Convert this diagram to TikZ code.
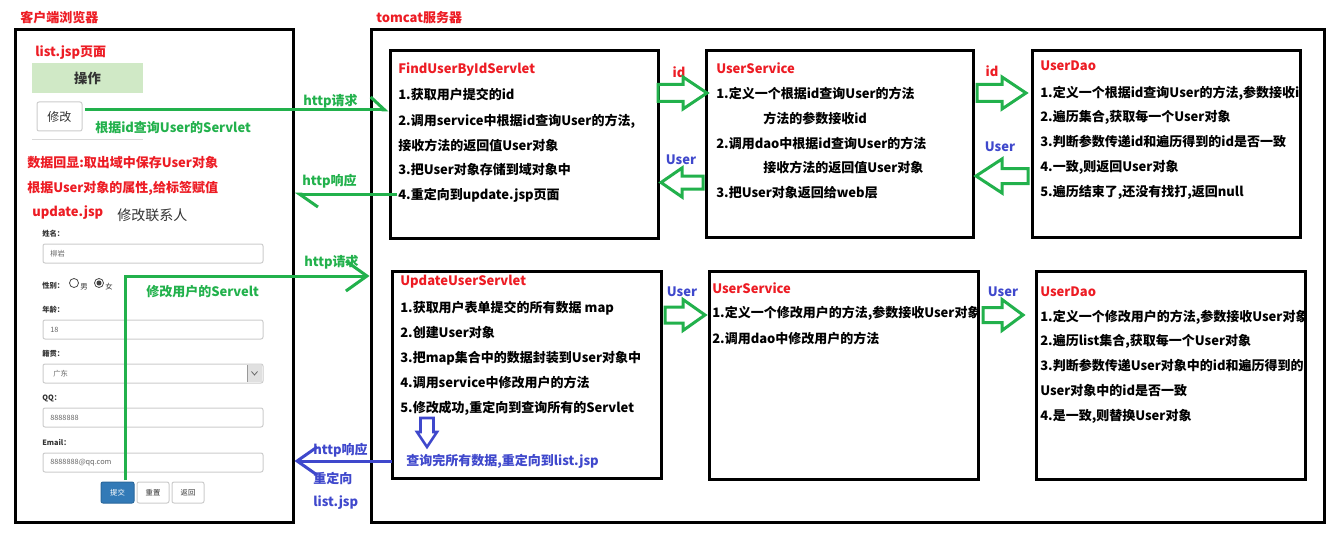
\documentclass[tikz,border=0pt]{standalone}
\usepackage{fontspec}
\setmainfont{Noto Sans CJK SC}
\usetikzlibrary{arrows.meta,fit}
\definecolor{myred}{HTML}{ED1C24}
\definecolor{mygreen}{HTML}{22B14C}
\definecolor{myblue}{HTML}{3F48CC}
\definecolor{okfill}{HTML}{D0E9C6}
\definecolor{formgray}{HTML}{CCCCCC}
\definecolor{dark}{HTML}{333333}
\definecolor{btnblue}{HTML}{337AB7}
\newcommand\myfatarrow[7][mygreen]{% tail, headback, tip, y, shaft half, head half
  \draw[fat,draw=#1] (#2,{#5-#6}) -- (#3,{#5-#6}) -- (#3,{#5-#7}) -- (#4,#5) -- (#3,{#5+#7}) -- (#3,{#5+#6}) -- (#2,{#5+#6}) -- cycle;}
\begin{document}
\begin{tikzpicture}[x=0.75pt,y=-0.75pt,
  txt/.style={anchor=west,inner sep=0,font=\fontsize{9.75}{11}\selectfont\bfseries},
  rtxt/.style={txt,text=myred},
  gtxt/.style={txt,text=mygreen},
  btxt/.style={txt,text=myblue},
  ftxt/.style={anchor=west,inner sep=0,font=\fontsize{5.5}{6}\selectfont\bfseries,text=dark},
  ival/.style={anchor=west,inner sep=0,font=\fontsize{5.5}{6}\selectfont,text=black!60},
  box/.style={draw=black,line width=2.25pt,inner sep=0},
  field/.style={draw=formgray,line width=0.75pt,rounded corners=1.5pt},
  gline/.style={draw=mygreen,line width=2.25pt},
  bline/.style={draw=myblue,line width=2.25pt},
  fat/.style={line width=2.25pt,line join=miter},
  btn/.style={draw=formgray,line width=0.75pt,rounded corners=1.5pt,inner sep=0},
]
\fill[white] (0,0) rectangle (1336,542);
\useasboundingbox (0,0) rectangle (1336,542);

% ---------- headings ----------
\node[rtxt] (hclient) at (20,18) {客户端浏览器};
\node[rtxt] (htomcat) at (376,18) {tomcat服务器};

% ---------- browser contents ----------
\node[rtxt] (hlist) at (35,53) {list.jsp页面};
\coordinate (op1) at (32,63); \coordinate (op2) at (143,93);
\node[fill=okfill,inner sep=0,fit=(op1)(op2)] (opbox) {};
\node[inner sep=0,font=\fontsize{10}{12}\selectfont\bfseries,text=dark] (optxt) at (opbox) {操作};
\coordinate (bt1) at (37,102); \coordinate (bt2) at (82,131);
\node[btn,fit=(bt1)(bt2)] (editbtn) {};
\node[inner sep=0,font=\fontsize{9}{11}\selectfont,text=dark] (edittxt) at (editbtn) {修改};
\draw[draw=black!15,line width=0.75pt] (32,140) -- (143,140);
\node[gtxt] (gl1) at (95,128) {根据id查询User的Servlet};
\node[rtxt] (echo1) at (27,163) {数据回显:取出域中保存User对象};
\node[rtxt] (echo2) at (27,188) {根据User对象的属性,给标签赋值};
\node[rtxt] (hupd) at (32,213) {update.jsp};
\node[anchor=west,inner sep=0,font=\fontsize{10.5}{12}\selectfont,text=dark] (updtitle) at (117,215) {修改联系人};

% form
\node[ftxt] (lname) at (42,234) {姓名：};
\draw[field] (43,244) rectangle (263,263);
\node[ival] (vname) at (50,253.5) {柳岩};
\node[ftxt] (lsex) at (42,286) {性别：};
\draw[black!70,line width=0.6pt] (74,283) circle[radius=3.4pt];
\node[ival,text=dark] (vm) at (80,287) {男};
\draw[black!70,line width=0.6pt] (99,283) circle[radius=3.4pt];
\fill[black!75] (99,283) circle[radius=1.9pt];
\node[ival,text=dark] (vf) at (105,287) {女};
\node[ftxt] (lage) at (42,310) {年龄：};
\draw[field] (43,320) rectangle (263,339);
\node[ival] (vage) at (50,329.5) {18};
\node[ftxt] (lorig) at (42,354) {籍贯：};
\draw[field] (43,364) rectangle (263,383);
\fill[black!12] (247,365) rectangle (262,382);
\draw[black!40,line width=0.5pt] (247,365) -- (247,382);
\draw[black!60,line width=0.6pt] (251.5,371.5) -- (254.5,375) -- (257.5,371.5);
\node[ival] (vorig) at (53,373.5) {广东};
\node[ftxt] (lqq) at (42,398) {QQ：};
\draw[field] (43,408) rectangle (263,427);
\node[ival] (vqq) at (50,417.5) {8888888};
\node[ftxt] (lmail) at (42,443) {Email：};
\draw[field] (43,453) rectangle (263,472);
\node[ival] (vmail) at (50,462.5) {8888888@qq.com};
\coordinate (sb1) at (101,482); \coordinate (sb2) at (134,503);
\node[btn,fill=btnblue,draw=btnblue!85!black,fit=(sb1)(sb2)] (submit) {};
\node[inner sep=0,font=\fontsize{5.5}{6}\selectfont,text=white] at (submit) {提交};
\coordinate (rb1) at (137,482); \coordinate (rb2) at (169,503);
\node[btn,fit=(rb1)(rb2)] (reset) {};
\node[inner sep=0,font=\fontsize{5.5}{6}\selectfont,text=dark] at (reset) {重置};
\coordinate (kb1) at (172,482); \coordinate (kb2) at (204,503);
\node[btn,fit=(kb1)(kb2)] (back) {};
\node[inner sep=0,font=\fontsize{5.5}{6}\selectfont,text=dark] at (back) {返回};
\node[gtxt] (gl2) at (146,292) {修改用户的Servelt};

% ---------- top row texts ----------
\node[rtxt] (fsT) at (398,70) {FindUserByIdServlet};
\node[txt] (fs1) at (398,95) {1.获取用户提交的id};
\node[txt] (fs2) at (398,121) {2.调用service中根据id查询User的方法,};
\node[txt] (fs3) at (398,146) {接收方法的返回值User对象};
\node[txt] (fs4) at (398,170) {3.把User对象存储到域对象中};
\node[txt] (fs5) at (398,195) {4.重定向到update.jsp页面};

\node[rtxt] (usT) at (716,68) {UserService};
\node[txt] (us1) at (716,93) {1.定义一个根据id查询User的方法};
\node[txt] (us2) at (763,118) {方法的参数接收id};
\node[txt] (us3) at (716,143) {2.调用dao中根据id查询User的方法};
\node[txt] (us4) at (763,168) {接收方法的返回值User对象};
\node[txt] (us5) at (716,193) {3.把User对象返回给web层};

\begin{scope}
\clip (1000,40) rectangle (1300,240);
\node[rtxt] (udT) at (1040,66) {UserDao};
\node[txt] (ud1) at (1040,93) {1.定义一个根据id查询User的方法,参数接收id};
\node[txt] (ud2) at (1040,117) {2.遍历集合,获取每一个User对象};
\node[txt] (ud3) at (1040,142) {3.判断参数传递id和遍历得到的id是否一致};
\node[txt] (ud4) at (1040,167) {4.一致,则返回User对象};
\node[txt] (ud5) at (1040,192) {5.遍历结束了,还没有找打,返回null};
\end{scope}

% ---------- bottom row texts ----------
\node[rtxt] (uuT) at (400,282) {UpdateUserServlet};
\node[txt] (uu1) at (400,308) {1.获取用户表单提交的所有数据 map};
\node[txt] (uu2) at (400,333) {2.创建User对象};
\node[txt] (uu3) at (400,358) {3.把map集合中的数据封装到User对象中};
\node[txt] (uu4) at (400,383) {4.调用service中修改用户的方法};
\node[txt] (uu5) at (400,408) {5.修改成功,重定向到查询所有的Servlet};
\node[btxt] (uu6) at (406,461) {查询完所有数据,重定向到list.jsp};

\begin{scope}
\clip (700,260) rectangle (978,480);
\node[rtxt] (bsT) at (712,288) {UserService};
\node[txt] (bs1) at (712,313) {1.定义一个修改用户的方法,参数接收User对象};
\node[txt] (bs2) at (712,339) {2.调用dao中修改用户的方法};
\end{scope}

\begin{scope}
\clip (1030,260) rectangle (1305,480);
\node[rtxt] (bdT) at (1040,292) {UserDao};
\node[txt] (bd1) at (1040,317) {1.定义一个修改用户的方法,参数接收User对象};
\node[txt] (bd2) at (1040,341) {2.遍历list集合,获取每一个User对象};
\node[txt] (bd3) at (1040,366) {3.判断参数传递User对象中的id和遍历得到的};
\node[txt] (bd4) at (1040,391) {User对象中的id是否一致};
\node[txt] (bd5) at (1040,416) {4.是一致,则替换User对象};
\end{scope}

% ---------- frames and boxes ----------
\coordinate (br1) at (15,30); \coordinate (br2) at (293,522);
\node[box,fit=(br1)(br2)] (browser) {};
\coordinate (tc1) at (371,30); \coordinate (tc2) at (1324,522);
\node[box,fit=(tc1)(tc2)] (tomcat) {};
\coordinate (f1) at (390,51); \coordinate (f2) at (658,238);
\node[box,fit=(f1)(f2)] (fs) {};
\coordinate (s1a) at (706,51); \coordinate (s1b) at (973,237);
\node[box,fit=(s1a)(s1b)] (us) {};
\coordinate (d1a) at (1032,51); \coordinate (d1b) at (1300,237);
\node[box,fit=(d1a)(d1b)] (ud) {};
\coordinate (u1) at (392,271); \coordinate (u2) at (661,478);
\node[box,fit=(u1)(u2)] (uu) {};
\coordinate (s2a) at (709,271); \coordinate (s2b) at (978,479);
\node[box,fit=(s2a)(s2b)] (bs) {};
\coordinate (d2a) at (1036,271); \coordinate (d2b) at (1305,479);
\node[box,fit=(d2a)(d2b)] (bd) {};

% ---------- connector labels ----------
\node[gtxt] (lreq1) at (303,101) {http请求};
\node[gtxt] (lres1) at (302,181) {http响应};
\node[gtxt] (lreq2) at (304,262) {http请求};
\node[btxt] (lres2) at (313,450) {http响应};
\node[btxt] (lres3) at (313,478) {重定向};
\node[btxt] (lres4) at (313,503) {list.jsp};
\node[rtxt,anchor=center] (lid1) at (679,72) {id};
\node[rtxt,anchor=center] (lid2) at (992,71) {id};
\node[btxt,anchor=center] (lu1) at (681,160) {User};
\node[btxt,anchor=center] (lu2) at (1000,147) {User};
\node[btxt,anchor=center] (lu3) at (682,292) {User};
\node[btxt,anchor=center] (lu4) at (1003,292) {User};

% ---------- connectors ----------
\coordinate (c1) at (85,110);
\draw[gline,-{Straight Barb[length=10.5pt,width=19.5pt,harpoon]}] (c1) -- (c1 -| fs.west);
\coordinate (c2) at (397,194);
\draw[gline,-{Straight Barb[length=14pt,width=19.5pt,harpoon]}] (c2) -- (c2 -| browser.east);
\coordinate (c3) at (125,480);
\coordinate (c3t) at (0,276);
\draw[gline,-{Straight Barb[length=15.75pt,width=22.5pt]}] (c3) |- (c3t -| tomcat.west);
\coordinate (c4) at (392,461);
\draw[bline,-{Straight Barb[length=15pt,width=21pt]}] (c4) -- (c4 -| browser.east);

% hollow arrows between layers
\myfatarrow{658}{683}{707}{93}{8.5}{16}
\myfatarrow{977}{1002}{1026}{93}{8.5}{16}
\myfatarrow{703}{682}{661}{182.5}{6.5}{14.5}
\myfatarrow{1028}{1002}{976}{176}{7.5}{17}
\myfatarrow{665}{683}{705}{315}{8}{15.5}
\myfatarrow{983}{1002}{1023}{315}{7.5}{15.5}
% blue down arrow
\draw[fat,draw=myblue,line width=1.9pt] (420.5,418) -- (433.5,418) -- (433.5,432) -- (437,432) -- (427,447) -- (417,432) -- (420.5,432) -- cycle;
\end{tikzpicture}
\end{document}
